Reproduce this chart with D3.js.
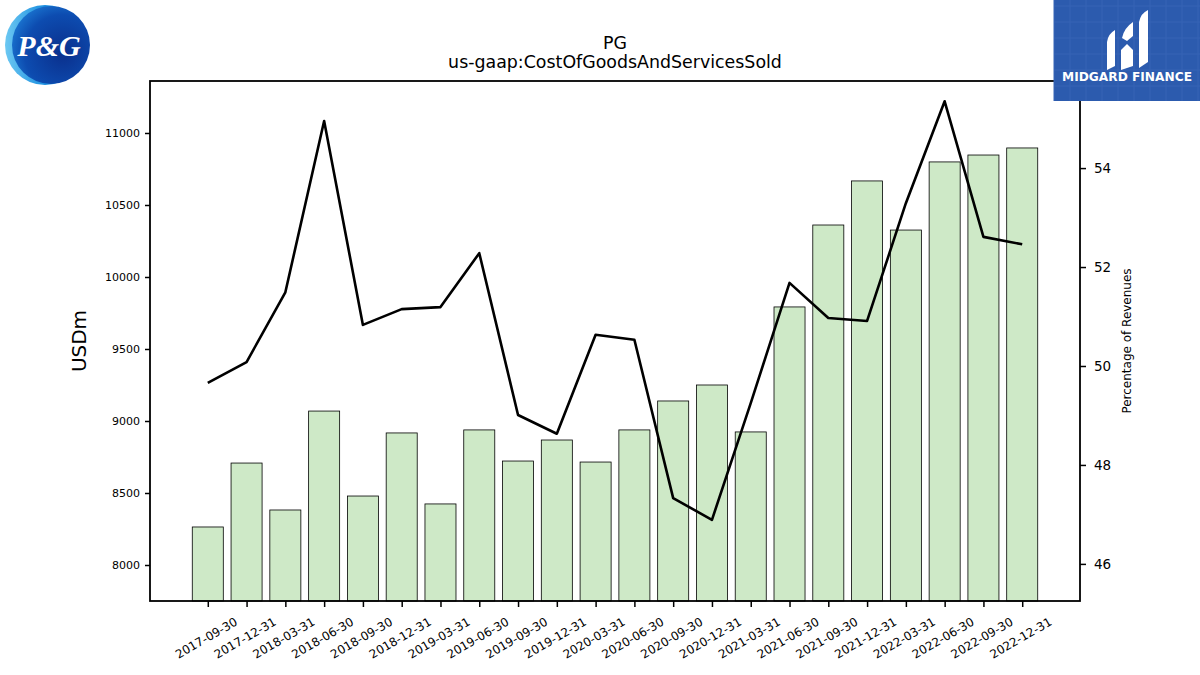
<!DOCTYPE html>
<html>
<head>
<meta charset="utf-8">
<script src="https://cdn.jsdelivr.net/npm/d3@7"></script>
<style>
  body { margin: 0; background: #fff; }
</style>
</head>
<body>
<svg id="chart" width="1200" height="675"></svg>
<script>
// data
var periods = ["2017-09-30","2017-12-31","2018-03-31","2018-06-30","2018-09-30","2018-12-31",
  "2019-03-31","2019-06-30","2019-09-30","2019-12-31","2020-03-31","2020-06-30","2020-09-30",
  "2020-12-31","2021-03-31","2021-06-30","2021-09-30","2021-12-31","2022-03-31","2022-06-30",
  "2022-09-30","2022-12-31"];
var cogs = [8264, 8708, 8382, 9069, 8479, 8917, 8424, 8938, 8722, 8868, 8715, 8938, 9139,
  9250, 8924, 9792, 10361, 10667, 10326, 10799, 10847, 10896];
var pctRevenue = [49.66, 50.08, 51.49, 54.95, 50.83, 51.15, 51.19, 52.28, 49.01, 48.63, 50.63,
  50.53, 47.33, 46.89, 49.25, 51.68, 50.97, 50.91, 53.29, 55.35, 52.61, 52.46];
var leftTicks = [8000, 8500, 9000, 9500, 10000, 10500, 11000];
var rightTicks = [46, 48, 50, 52, 54];

var FONT = "DejaVu Sans";
var svg = d3.select("#chart").attr("font-family", FONT);
var m = {left: 150, right: 1080, top: 81, bottom: 601};

var x = d3.scaleLinear().domain([-1.49, periods.length - 1 + 1.49]).range([m.left, m.right]);
var yL = d3.scaleLinear().domain([7750, 11361]).range([m.bottom, m.top]);
var yR = d3.scaleLinear().domain([45.25, 55.76]).range([m.bottom, m.top]);
var bw = x(0.4) - x(-0.4);

// bars
svg.append("g").selectAll("rect").data(cogs).enter().append("rect")
  .attr("x", function(d, i) { return x(i) - bw / 2; })
  .attr("y", function(d) { return yL(d); })
  .attr("width", bw)
  .attr("height", function(d) { return m.bottom - yL(d); })
  .attr("fill", "#cee9c7")
  .attr("stroke", "#000")
  .attr("stroke-width", 0.8);

// percentage line
var line = d3.line()
  .x(function(d, i) { return x(i); })
  .y(function(d) { return yR(d); });
svg.append("path").datum(pctRevenue)
  .attr("d", line)
  .attr("fill", "none")
  .attr("stroke", "#000")
  .attr("stroke-width", 2.6)
  .attr("stroke-linejoin", "round");

// axes
var gl = svg.append("g").attr("transform", "translate(" + m.left + ",0)")
  .call(d3.axisLeft(yL).tickValues(leftTicks).tickSize(5).tickPadding(5).tickFormat(d3.format("d")));
var gr = svg.append("g").attr("transform", "translate(" + m.right + ",0)")
  .call(d3.axisRight(yR).tickValues(rightTicks).tickSize(6).tickPadding(8).tickFormat(d3.format("d")));
var gb = svg.append("g").attr("transform", "translate(0," + m.bottom + ")")
  .call(d3.axisBottom(x).tickValues(d3.range(periods.length)).tickSize(6)
    .tickFormat(function(i) { return periods[i]; }));

[gl, gr, gb].forEach(function(g) {
  g.attr("font-family", FONT);
  g.select(".domain").remove();
  g.selectAll(".tick line").attr("stroke", "#000").attr("stroke-width", 1.5);
  g.selectAll(".tick text").attr("fill", "#000").style("font-size", "11px");
});
gr.selectAll(".tick text").style("font-size", "13.5px");
gb.selectAll(".tick text")
  .style("font-size", "11.9px")
  .attr("text-anchor", "middle")
  .attr("transform", "translate(-2,37) rotate(-30)")
  .attr("y", 0).attr("dy", "0.35em");

// frame
svg.append("rect").attr("x", m.left).attr("y", m.top)
  .attr("width", m.right - m.left).attr("height", m.bottom - m.top)
  .attr("fill", "none").attr("stroke", "#000").attr("stroke-width", 1.8);

// titles
svg.append("text").attr("x", 615).attr("y", 49).attr("text-anchor", "middle")
  .style("font-size", "17.4px").text("PG");
svg.append("text").attr("x", 615).attr("y", 68).attr("text-anchor", "middle")
  .style("font-size", "17.4px").text("us-gaap:CostOfGoodsAndServicesSold");
svg.append("text").attr("transform", "translate(86,341) rotate(-90)").attr("text-anchor", "middle")
  .style("font-size", "20px").text("USDm");
svg.append("text").attr("transform", "translate(1131,341) rotate(-90)").attr("text-anchor", "middle")
  .style("font-size", "12px").text("Percentage of Revenues");

// P&G logo
var defs = svg.append("defs");
var g1 = defs.append("radialGradient").attr("id", "pgGrad")
  .attr("cx", "0.65").attr("cy", "0.6").attr("r", "0.7");
g1.append("stop").attr("offset", "0").attr("stop-color", "#0a2f8c");
g1.append("stop").attr("offset", "0.7").attr("stop-color", "#0d4cb0");
g1.append("stop").attr("offset", "1").attr("stop-color", "#1a74d0");
var g2 = defs.append("linearGradient").attr("id", "pgEdge").attr("x1", "0").attr("x2", "1");
g2.append("stop").attr("offset", "0").attr("stop-color", "#6cc8f2");
g2.append("stop").attr("offset", "0.5").attr("stop-color", "#1b8fe0");
svg.append("circle").attr("cx", 45).attr("cy", 45).attr("r", 40).attr("fill", "url(#pgEdge)");
svg.append("circle").attr("cx", 51).attr("cy", 45).attr("r", 39).attr("fill", "url(#pgGrad)");
svg.append("text").attr("x", 49).attr("y", 56).attr("text-anchor", "middle")
  .attr("fill", "#fff").attr("font-family", "Liberation Serif")
  .style("font-style", "italic").style("font-weight", "bold").style("font-size", "30px")
  .text("P&G");

// Midgard logo
svg.append("rect").attr("x", 1054).attr("y", 0).attr("width", 146).attr("height", 101)
  .attr("fill", "#2c5bae");
var grid = svg.append("g").attr("stroke", "#3764b5").attr("stroke-width", 1);
d3.range(1054, 1200, 16).forEach(function(v) {
  grid.append("line").attr("x1", v).attr("x2", v).attr("y1", 0).attr("y2", 101);
});
d3.range(6, 101, 16).forEach(function(v) {
  grid.append("line").attr("x1", 1054).attr("x2", 1200).attr("y1", v).attr("y2", v);
});
var icon = svg.append("g").attr("fill", "#fff");
icon.append("path").attr("d", "M1107,70 L1107,42 Q1108,34 1115,30 L1115,66 Z");
icon.append("path").attr("d", "M1121,70 L1121,50 L1127,44 L1133,50 L1133,66 Z");
icon.append("path").attr("d", "M1122,38 Q1124,28 1133,22 L1133,36 L1127,41 Z");
icon.append("path").attr("d", "M1139,68 L1139,22 Q1141,13 1148,10 L1148,62 Z");
svg.append("text").attr("x", 1127).attr("y", 81).attr("text-anchor", "middle")
  .attr("fill", "#fff").style("font-weight", "bold").style("font-size", "12.2px")
  .text("MIDGARD FINANCE");
</script>
</body>
</html>
